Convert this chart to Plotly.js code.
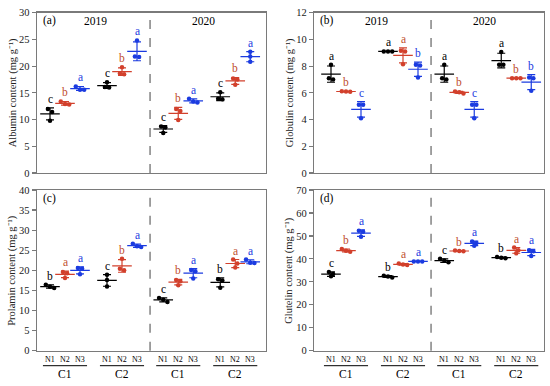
<!DOCTYPE html>
<html><head><meta charset="utf-8">
<script src="https://cdn.plot.ly/plotly-3.0.1.min.js"></script>
<style>html,body{margin:0;padding:0;background:#fff}#g{width:550px;height:386px}</style>
</head><body><div id="g"></div>
<script>
// ---- data ----
const years = ['2019', '2020'];
const cultivars = ['C1', 'C2'];
const nLevels = ['N1', 'N2', 'N3'];
// group order: 2019 C1 N1..N3, 2019 C2 N1..N3, 2020 C1 N1..N3, 2020 C2 N1..N3 ; 3 replicates each
const albumin = [[12.0,11.4,9.8],[13.4,12.9,12.8],[16.2,15.6,15.6],[17.0,16.1,16.0],[19.8,18.6,18.5],[24.8,21.8,21.7],
                 [8.7,8.5,7.5],[12.0,11.6,9.9],[13.9,13.4,13.2],[15.1,13.9,13.8],[17.7,17.5,16.5],[22.7,21.8,20.8]];
const albuminLetters = ['c','b','a','c','b','a','c','b','a','c','b','a'];
const globulin = [[8.1,7.1,7.0],[6.12,6.1,6.08],[5.1,5.1,4.1],[9.1,9.1,9.1],[9.15,9.1,8.15],[8.1,8.05,7.15],
                  [8.1,7.1,7.0],[6.1,6.05,5.95],[5.1,5.1,4.1],[9.05,8.1,8.1],[7.1,7.1,7.1],[7.15,7.1,6.15]];
const globulinLetters = ['a','b','c','a','a','b','a','b','c','a','b','b'];
const prolamin = [[16.4,15.9,15.6],[19.6,19.3,18.1],[20.6,20.4,19.0],[18.9,17.6,16.0],[22.9,20.4,20.0],[26.6,26.0,25.8],
                  [13.1,12.7,12.1],[17.6,17.3,16.3],[20.1,19.8,18.0],[17.8,17.5,15.7],[22.7,21.7,20.7],[22.7,21.9,21.8]];
const prolaminLetters = ['b','a','a','c','b','a','c','b','a','b','a','a'];
const glutelin = [[34.3,33.4,32.4],[44.3,43.5,43.1],[52.2,51.8,49.6],[32.7,32.3,31.9],[38.0,37.6,37.3],[38.9,38.9,38.9],
                  [40.0,39.3,38.5],[43.6,43.4,43.3],[47.6,46.9,45.7],[40.8,40.5,40.3],[44.9,43.8,42.4],[43.8,43.3,41.2]];
const glutelinLetters = ['c','b','a','b','a','a','c','b','a','b','a','a'];

// ---- styling / layout ----
const FONT = 'Liberation Serif, Times New Roman, serif';
const colors = ['#000000', '#d2402c', '#1b3be0'];
const letterColors = ['#000000', '#c0502e', '#1b3be0'];
const W = 550, H = 386;
const leftDom = [37/W, 265.7/W], rightDom = [314.3/W, 543.7/W];
const topDom = [(H-173)/H, (H-12.7)/H], botDom = [(H-350.7)/H, (H-190)/H];
const leftRange = [0.133, 15.38], rightRange = [-0.113, 15.18];
const sepX = 7.67;
const PXU = 15; // pixels per x unit

function xPos(g) {
  const y = Math.floor(g / 6), c = Math.floor((g % 6) / 3), n = g % 3;
  return 1 + n + c * 3.8 + y * 7.55;
}
function mean(a){return a.reduce((s,v)=>s+v,0)/a.length;}
function sd(a){const m=mean(a);return Math.sqrt(a.reduce((s,v)=>s+(v-m)*(v-m),0)/(a.length-1));}

// beeswarm-like offsets (pixels)
function swarm(vals, ppu) {
  const idx = vals.map((v,i)=>i).sort((a,b)=>vals[b]-vals[a]);
  const off = new Array(vals.length).fill(0);
  const clusters = [];
  idx.forEach(i => {
    const last = clusters[clusters.length-1];
    if (last && Math.abs(vals[last[0]] - vals[i]) * ppu < 4.2) last.push(i); else clusters.push([i]);
  });
  clusters.forEach(cl => {
    const k = cl.length;
    cl.forEach((i, j) => { off[i] = (j - (k-1)/2) * 4.2; });
  });
  return off;
}

const panels = [
  {data: albumin, letters: albuminLetters, xa:'x', ya:'y', range:[0,30], dtick:5, title:'Albumin content (mg g⁻¹)', tag:'(a)', xdom:leftDom, ydom:topDom, xr:leftRange, tx:12.5},
  {data: globulin, letters: globulinLetters, xa:'x2', ya:'y2', range:[0,12], dtick:2, title:'Globulin content (mg g⁻¹)', tag:'(b)', xdom:rightDom, ydom:topDom, xr:rightRange, tx:289.5},
  {data: prolamin, letters: prolaminLetters, xa:'x3', ya:'y3', range:[0,40], dtick:5, title:'Prolamin content (mg g⁻¹)', tag:'(c)', xdom:leftDom, ydom:botDom, xr:leftRange, bottom:true, tx:12.5},
  {data: glutelin, letters: glutelinLetters, xa:'x4', ya:'y4', range:[0,70], dtick:10, title:'Glutelin content (mg g⁻¹)', tag:'(d)', xdom:rightDom, ydom:botDom, xr:rightRange, bottom:true, tx:289.5},
];

const traces = [], annotations = [], shapes = [];
const layout = {
  width: W, height: H, margin: {l:0, r:0, t:0, b:0},
  paper_bgcolor: '#fff', plot_bgcolor: '#fff', showlegend: false,
  font: {family: FONT, color: '#000', size: 11},
};

panels.forEach((p, pi) => {
  const plotH = (p.ydom[1] - p.ydom[0]) * H;
  const ppu = plotH / (p.range[1] - p.range[0]);
  const sfx = pi === 0 ? '' : String(pi + 1);
  const xdom = p.xdom;
  layout['xaxis' + sfx] = {domain: xdom, range: p.xr, showline: true, mirror: true, linecolor: '#7a7a7a', linewidth: 1.4,
    showgrid: false, zeroline: false, showticklabels: false, ticks: '', anchor: p.ya, fixedrange: true};
  layout['yaxis' + sfx] = {domain: p.ydom, range: p.range, dtick: p.dtick, showline: true, mirror: true, linecolor: '#7a7a7a', linewidth: 1.4,
    showgrid: false, zeroline: false, ticks: 'outside', ticklen: 4, tickwidth: 1.2, tickcolor: '#7a7a7a', anchor: p.xa,
    tickfont: {family: FONT, size: 10.5, color: '#222'}, fixedrange: true};

  // y-axis title
  annotations.push({xref: 'paper', yref: 'paper', x: p.tx / W, y: (p.ydom[0] + p.ydom[1]) / 2, text: p.title,
    textangle: -90, showarrow: false, xanchor: 'center', yanchor: 'middle', font: {family: FONT, size: 10.5, color: '#222'}});

  for (let s = 0; s < 3; s++) {
    const gx = [], gm = [], gsd = [], dx = [], dy = [];
    for (let g = s; g < 12; g += 3) {
      const vals = p.data[g];
      const m = mean(vals), d = sd(vals), x = xPos(g);
      gx.push(x); gm.push(m); gsd.push(d);
      const off = swarm(vals, ppu);
      vals.forEach((v, i) => { dx.push(x + off[i] / PXU); dy.push(v); });
      const top = Math.max(m + d, Math.max(...vals));
      annotations.push({x: x, y: top, xref: p.xa, yref: p.ya, text: p.letters[g], showarrow: false,
        yanchor: 'bottom', yshift: 1, font: {family: FONT, size: 11.5, color: letterColors[s]}});
    }
    traces.push({type: 'scatter', mode: 'markers', x: gx, y: gm, xaxis: p.xa, yaxis: p.ya, hoverinfo: 'skip',
      marker: {symbol: 'line-ew', size: 14, color: colors[s], line: {color: colors[s], width: 1.2}},
      error_y: {type: 'data', array: gsd, visible: true, color: colors[s], thickness: 1.2, width: 4}});
    traces.push({type: 'scatter', mode: 'markers', x: dx, y: dy, xaxis: p.xa, yaxis: p.ya, hoverinfo: 'skip',
      marker: {symbol: 'circle', size: 4.5, color: colors[s], line: {width: 0}}});
  }

  // separator line
  shapes.push({type: 'line', xref: p.xa, yref: p.ya + ' domain', x0: sepX, x1: sepX, y0: 0, y1: 1,
    line: {color: '#7a7a7a', width: 1.4, dash: 'dash'}});

  // panel tag and year labels
  const yTop = p.ydom[1] - 8.3 / H;
  annotations.push({xref: 'paper', yref: 'paper', x: xdom[0] + 4 / W, y: yTop, text: p.tag, showarrow: false,
    xanchor: 'left', yanchor: 'middle', font: {family: FONT, size: 11.5, color: '#000'}});
  if (!p.bottom) {
    annotations.push({xref: p.xa, yref: 'paper', x: (xPos(0) + xPos(5)) / 2 + 0.1, y: yTop, text: years[0], showarrow: false,
      yanchor: 'middle', font: {family: FONT, size: 11.5, color: '#000'}});
    annotations.push({xref: p.xa, yref: 'paper', x: (xPos(6) + xPos(11)) / 2 - 0.2, y: yTop, text: years[1], showarrow: false,
      yanchor: 'middle', font: {family: FONT, size: 11.5, color: '#000'}});
  } else {
    for (let g = 0; g < 12; g++) {
      annotations.push({xref: p.xa, yref: 'paper', x: xPos(g), y: (H - 359.5) / H, text: nLevels[g % 3], showarrow: false,
        yanchor: 'middle', font: {family: FONT, size: 8, color: '#000'}});
    }
    for (let b = 0; b < 4; b++) {
      const cx = xPos(b * 3 + 1);
      shapes.push({type: 'line', xref: p.xa, yref: 'paper', x0: cx - 1.47, x1: cx + 1.47, y0: (H - 365.7) / H, y1: (H - 365.7) / H,
        line: {color: '#000', width: 1}});
      annotations.push({xref: p.xa, yref: 'paper', x: cx, y: (H - 373.5) / H, text: cultivars[b % 2], showarrow: false,
        yanchor: 'middle', font: {family: FONT, size: 11.5, color: '#000'}});
    }
  }
});

layout.annotations = annotations;
layout.shapes = shapes;
Plotly.newPlot('g', traces, layout, {staticPlot: true, displayModeBar: false});
</script></body></html>
